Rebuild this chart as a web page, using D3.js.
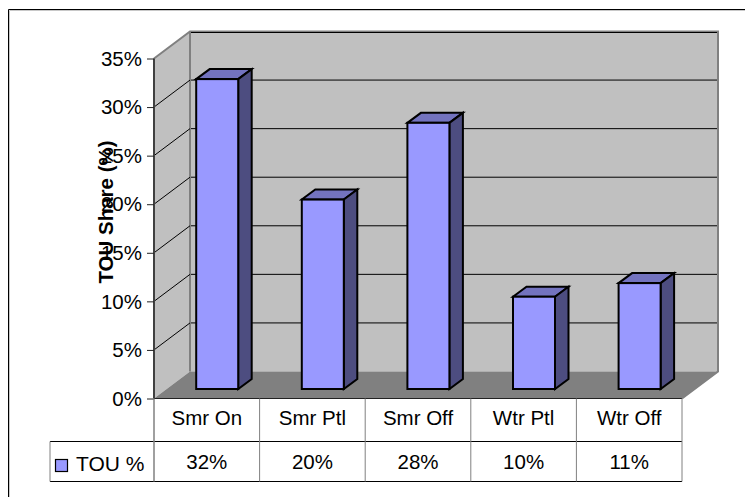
<!DOCTYPE html>
<html><head><meta charset="utf-8">
<script src="https://cdn.jsdelivr.net/npm/d3@7"></script>
<style>html,body{margin:0;padding:0;background:#fff}svg{display:block}text{font-family:"Liberation Sans",Arial,sans-serif;fill:#000}</style>
</head><body><svg id="c" width="745" height="497"></svg>
<script>
const categories=["Smr On","Smr Ptl","Smr Off","Wtr Ptl","Wtr Off"];
const values=[31.9,19.5,27.4,9.5,10.9];
const tableLabels=["32%","20%","28%","10%","11%"];
const ticks=[0,5,10,15,20,25,30,35];
const seriesName="TOU %";
const axisTitle="TOU Share (%)";

const svg=d3.select("#c");
const x=d3.scaleBand().domain(categories).range([154,682]);
const y=d3.scaleLinear().domain([0,35]).range([398.5,58.5]);
const dx=36,dy=-27;
const barD={x:13.5,y:-10};
const barW=42;
const barBase=389;
const h0=y(0);
const barTop=v=>barBase-(y(0)-y(v));
const barLeft=c=>x(c)+x.bandwidth()/2-barW/2+10.4;
const pts=a=>a.map(p=>p.join(",")).join(" ");

// frame
svg.append("path").attr("d","M8.5 497V9.5H745").attr("fill","none").attr("stroke","#000").attr("stroke-width",1);
svg.append("path").attr("d","M9.5 497V10.5H745").attr("fill","none").attr("stroke","#c8c8c8").attr("stroke-width",1);

const L=x.range()[0],R=x.range()[1],T=y(35);
// walls
svg.append("polygon").attr("points",pts([[L,h0],[L+dx,h0+dy],[L+dx,T+dy],[L,T]])).attr("fill","#c0c0c0");
svg.append("rect").attr("x",L+dx).attr("y",T+dy).attr("width",R-L).attr("height",h0-T).attr("fill","#c0c0c0");
svg.append("polygon").attr("points",pts([[L,h0],[R,h0],[R+dx,h0+dy],[L+dx,h0+dy]])).attr("fill","#808080");

// wall borders
svg.append("polyline").attr("points",pts([[L,T],[L+dx,T+dy],[R+dx,T+dy],[R+dx,h0+dy],[R,h0]])).attr("fill","none").attr("stroke","#808080").attr("stroke-width",2);
svg.append("line").attr("x1",L+dx).attr("x2",L+dx).attr("y1",T+dy).attr("y2",h0+dy).attr("stroke","#808080").attr("stroke-width",2);
// gridlines
ticks.slice(1).forEach(t=>{
  if(t<35) svg.append("line").attr("x1",L).attr("y1",y(t)).attr("x2",L+dx).attr("y2",y(t)+dy).attr("stroke","#000").attr("stroke-width",1);
  svg.append("line").attr("x1",L+dx+1).attr("y1",y(t)+dy+(t==35?1:0)).attr("x2",R+dx-1).attr("y2",y(t)+dy+(t==35?1:0)).attr("stroke","#000").attr("stroke-width",1);
});

// axis
const axis=d3.axisLeft(y).tickValues(ticks).tickFormat(d=>d+"%").tickSize(7).tickPadding(5);
const ag=svg.append("g").attr("transform",`translate(${L},0)`).call(axis);
ag.selectAll(".tick text").attr("font-size",20.5).attr("dy","0.33em").style("font-family",'"Liberation Sans"');
ag.selectAll(".tick line").attr("stroke","#222").attr("stroke-width",1);
ag.select(".domain").attr("stroke","#404040").attr("stroke-width",2).attr("d",`M0,${y(35)}V${y(0)}`).attr("fill","none");

// bars
const bars=svg.selectAll("g.bar").data(categories.map((c,i)=>({c,v:values[i]}))).join("g").attr("class","bar").attr("stroke","#000").attr("stroke-width",2).attr("stroke-linejoin","miter");
bars.append("polygon").attr("points",d=>{const l=barLeft(d.c),t=barTop(d.v);return pts([[l,t],[l+barW,t],[l+barW+barD.x,t+barD.y],[l+barD.x,t+barD.y]]);}).attr("fill","#7373bf");
bars.append("polygon").attr("points",d=>{const l=barLeft(d.c)+barW,t=barTop(d.v);return pts([[l,t],[l+barD.x,t+barD.y],[l+barD.x,barBase+barD.y],[l,barBase]]);}).attr("fill","#4d4d80");
bars.append("rect").attr("x",d=>barLeft(d.c)).attr("y",d=>barTop(d.v)).attr("width",barW).attr("height",d=>barBase-barTop(d.v)).attr("fill","#9999ff");

// data table
const row1=441.5,row2=481.5,tl=50;
svg.append("line").attr("x1",L).attr("x2",R).attr("y1",h0).attr("y2",h0).attr("stroke","#222").attr("stroke-width",1);
svg.append("line").attr("x1",tl).attr("x2",R).attr("y1",row1).attr("y2",row1).attr("stroke","#000").attr("stroke-width",1);
svg.append("line").attr("x1",tl).attr("x2",R).attr("y1",row2).attr("y2",row2).attr("stroke","#000").attr("stroke-width",1);
svg.append("line").attr("x1",tl).attr("x2",tl).attr("y1",row1).attr("y2",row2).attr("stroke","#808080").attr("stroke-width",1);
categories.forEach((c,i)=>{
  const xx=x(c);
  svg.append("line").attr("x1",xx).attr("x2",xx).attr("y1",h0).attr("y2",row2).attr("stroke","#808080").attr("stroke-width",i==0?1.5:1);
  svg.append("text").attr("x",xx+x.bandwidth()/2).attr("y",425).attr("text-anchor","middle").attr("font-size",20.5).text(c);
  svg.append("text").attr("x",xx+x.bandwidth()/2).attr("y",469).attr("text-anchor","middle").attr("font-size",20.5).text(tableLabels[i]);
});
svg.append("line").attr("x1",R).attr("x2",R).attr("y1",h0).attr("y2",row2).attr("stroke","#808080").attr("stroke-width",1);
svg.append("rect").attr("x",55.5).attr("y",459.5).attr("width",12).attr("height",12).attr("fill","#9999ff").attr("stroke","#000").attr("stroke-width",1.2);
svg.append("text").attr("x",76).attr("y",471).attr("font-size",21).text(seriesName);

// axis title
svg.append("text").attr("transform","translate(113,212) rotate(-90)").attr("text-anchor","middle").attr("font-size",20.5).attr("font-weight","bold").text(axisTitle);
</script></body></html>
